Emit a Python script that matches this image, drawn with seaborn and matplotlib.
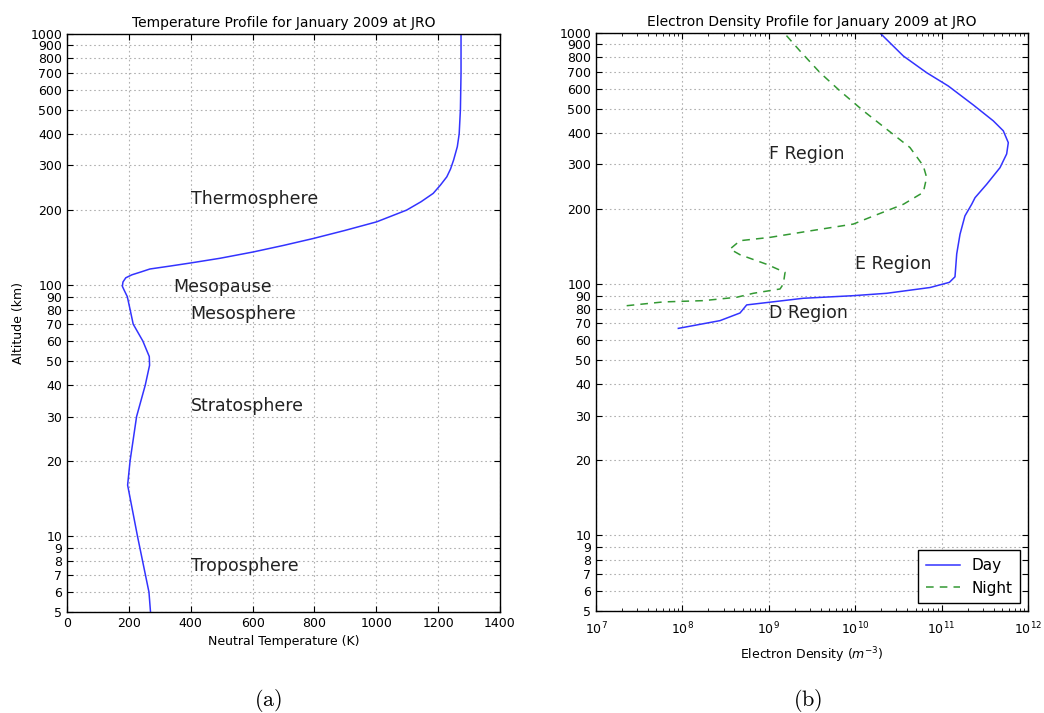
import numpy as np
import pandas as pd
import matplotlib
matplotlib.use("Agg")
import matplotlib.pyplot as plt
import seaborn as sns
from matplotlib.ticker import FixedLocator, FixedFormatter, LogLocator, NullFormatter

# ---------------- data ----------------
temp_alt = [5, 6, 10, 16, 20, 30, 40, 48, 52, 60, 70, 80, 90, 96, 99, 103, 107, 110, 113, 116, 119,
            122.5, 128, 135.6, 144, 153.4, 165, 178.7, 199, 215, 232, 250, 270, 290, 315, 356, 400,
            500, 700, 1000]
temp_K = [270, 265, 228, 196, 204, 225, 253, 267, 266, 245, 214, 204, 195, 184, 179, 181, 190, 210,
          240, 268, 330, 398, 495, 602, 700, 796, 897, 1001, 1098, 1145, 1184, 1207, 1228, 1240, 1250,
          1262, 1268, 1272, 1274, 1274]

day_alt = [66.7, 71.6, 76.8, 82.7, 87.9, 90, 92, 97, 101.7, 107, 132, 158, 187, 208, 221, 250,
           291, 330, 366, 408, 447, 517, 615, 695, 810, 1000]
day_logN = [7.953, 8.435, 8.667, 8.744, 9.40, 9.978, 10.365, 10.866, 11.09, 11.155, 11.175, 11.213,
            11.27, 11.348, 11.387, 11.522, 11.676, 11.753, 11.772, 11.714, 11.598, 11.367, 11.078,
            10.827, 10.557, 10.287]

night_alt = [82.1, 85, 86, 88.7, 92, 95.7, 100.2, 111.4, 120, 131, 138, 149, 153.6, 163, 173.5, 184.5,
             208, 232, 266, 296, 350, 414, 490, 588, 695, 848, 1000]
night_logN = [7.355, 7.779, 8.242, 8.628, 8.821, 9.13, 9.168, 9.188, 8.976, 8.667, 8.551, 8.667,
              9.014, 9.477, 9.978, 10.171, 10.557, 10.788, 10.827, 10.788, 10.634, 10.364, 10.094,
              9.824, 9.593, 9.361, 9.178]

alt_ticks = [5, 6, 7, 8, 9, 10, 20, 30, 40, 50, 60, 70, 80, 90, 100, 200, 300, 400, 500, 600, 700, 800, 900, 1000]
temp_ticks = [0, 200, 400, 600, 800, 1000, 1200, 1400]

layers = ["Thermosphere", "Mesopause", "Mesosphere", "Stratosphere", "Troposphere"]
layer_x = [400, 345, 400, 400, 400]
layer_y = [220, 98, 76.5, 33, 7.6]

regions = ["F Region", "E Region", "D Region"]
region_x = [1e9, 1e10, 1e9]
region_y = [330, 120, 76.8]

# ---------------- style ----------------
plt.rcParams.update({
    "font.family": ["DejaVu Sans"],
    "xtick.direction": "in", "ytick.direction": "in",
    "xtick.top": True, "ytick.right": True,
    "xtick.major.size": 4, "ytick.major.size": 4,
    "xtick.minor.size": 2, "ytick.minor.size": 2,
    "xtick.labelsize": 9, "ytick.labelsize": 9,
    "axes.linewidth": 1.0,
    "mathtext.fontset": "dejavusans",
})

fig = plt.figure(figsize=(10.44, 7.13), dpi=100)
ax1 = fig.add_axes([67/1044, 1-612/713, 433/1044, 578/713])
ax2 = fig.add_axes([596/1044, 1-611/713, 432/1044, 578/713])

blue = (0.2, 0.2, 1.0)
green = (0.2, 0.6, 0.2)

df_t = pd.DataFrame({"alt": temp_alt, "T": temp_K})
sns.lineplot(data=df_t, x="T", y="alt", sort=False, estimator=None, ax=ax1, color=blue, lw=1.1)

df_d = pd.DataFrame({"alt": day_alt, "N": 10 ** np.array(day_logN), "when": "Day"})
df_n = pd.DataFrame({"alt": night_alt, "N": 10 ** np.array(night_logN), "when": "Night"})
sns.lineplot(data=df_d, x="N", y="alt", sort=False, estimator=None, ax=ax2, color=blue, lw=1.1, label="Day")
sns.lineplot(data=df_n, x="N", y="alt", sort=False, estimator=None, ax=ax2, color=green, lw=1.1,
             linestyle=(0, (5, 4)), label="Night")

def style_alt(ax):
    ax.set_yscale("log")
    ax.set_ylim(5, 1000)
    ax.yaxis.set_major_locator(FixedLocator(alt_ticks))
    ax.yaxis.set_major_formatter(FixedFormatter([str(t) for t in alt_ticks]))
    ax.yaxis.set_minor_locator(FixedLocator([]))
    ax.grid(True, which="major", color="#b0b0b0", linestyle=(0, (1.5, 2.5)), linewidth=0.8)
    for s in ax.spines.values():
        s.set_color("black")

style_alt(ax1)
ax1.set_xlim(0, 1400)
ax1.xaxis.set_major_locator(FixedLocator(temp_ticks))
ax1.set_xlabel("Neutral Temperature (K)", fontsize=9)
ax1.set_ylabel("Altitude (km)", fontsize=9)
ax1.set_title("Temperature Profile for January 2009 at JRO", fontsize=10, pad=5)
for name, x, y in zip(layers, layer_x, layer_y):
    ax1.text(x, y, name, fontsize=12.5, ha="left", va="center", color="#222222")

style_alt(ax2)
ax2.set_xscale("log")
ax2.set_xlim(1e7, 1e12)
ax2.xaxis.set_major_locator(LogLocator(base=10, numticks=10))
ax2.xaxis.set_minor_locator(LogLocator(base=10, subs=np.arange(2, 10), numticks=20))
ax2.xaxis.set_minor_formatter(NullFormatter())
ax2.tick_params(axis="x", which="major", pad=7)
ax2.set_xlabel("Electron Density ($m^{-3}$)", fontsize=9, labelpad=6)
ax2.set_ylabel("")
ax2.set_title("Electron Density Profile for January 2009 at JRO", fontsize=10, pad=5)
for name, x, y in zip(regions, region_x, region_y):
    ax2.text(x, y, name, fontsize=12.5, ha="left", va="center", color="#222222")
leg = ax2.legend(loc="lower right", fontsize=11, frameon=True, fancybox=False,
                 edgecolor="black", framealpha=1, borderpad=0.5, handlelength=2.2)
leg.get_frame().set_linewidth(1.0)

plt.rcParams["mathtext.fontset"] = "cm"
fig.text(268/1044, 1-700/713, r"$\mathrm{(a)}$", fontsize=16, ha="center", va="center")
fig.text(808/1044, 1-700/713, r"$\mathrm{(b)}$", fontsize=16, ha="center", va="center")

fig.savefig("out.png", dpi=100)
